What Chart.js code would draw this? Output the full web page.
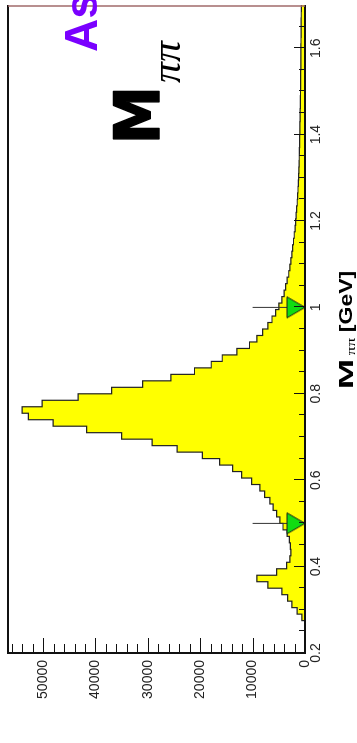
<!DOCTYPE html>
<html>
<head>
  <title>M pipi</title>
  <script src="https://cdn.jsdelivr.net/npm/chart.js@4/dist/chart.umd.min.js"></script>
  <style>
    html, body { margin: 0; padding: 0; background: #fff; overflow: hidden; }
    body { width: 357px; height: 743px; position: relative; }
    /* the plot is drawn landscape and turned a quarter left, like the scan */
    #wrap { position: absolute; left: 0; top: 0; width: 743px; height: 357px;
            transform-origin: 0 0; transform: translate(0, 743px) rotate(-90deg); }
  </style>
</head>
<body>
  <div id="wrap"><canvas id="hist" width="743" height="357"></canvas></div>
  <script>
    // 100 bins of 15 MeV between 0.2 and 1.7 GeV
    var massMin = 0.2, massMax = 1.7, binWidth = 0.015;
    var counts = [
      0, 0, 0, 0, 0, 600, 1500, 2500, 3300, 4400,
      7100, 9200, 5400, 3500, 2900, 2700, 2800, 3000, 3400, 4200,
      4800, 5400, 6100, 6700, 7700, 8600, 10200, 12100, 13800, 16300,
      19600, 24400, 29200, 35000, 41700, 48100, 52800, 54000, 50200, 43300,
      36900, 31000, 25600, 21100, 17900, 15800, 13000, 10600, 9200, 8100,
      7100, 6300, 5600, 5000, 4400, 4000, 3700, 3400, 3100, 2900,
      2700, 2500, 2350, 2200, 2050, 1900, 1780, 1680, 1580, 1480,
      1400, 1340, 1280, 1220, 1180, 1140, 1100, 1070, 1040, 1010,
      980, 960, 940, 920, 900, 880, 860, 850, 830, 820,
      800, 790, 780, 770, 760, 750, 740, 730, 720, 710
    ];
    var massTicks = [0.2, 0.4, 0.6, 0.8, 1, 1.2, 1.4, 1.6];
    var countTicks = [0, 10000, 20000, 30000, 40000, 50000];
    var countMax = 56700;
    var cutMasses = [0.5, 1.0];
    var cutLineTop = 10000;

    var histPts = [];
    for (var i = 0; i < counts.length; i++) {
      histPts.push({x: massMin + i * binWidth, y: counts[i]});
    }
    histPts.push({x: massMax, y: counts[counts.length - 1]});

    // green cut arrow, tip at the centre of the image so it sits on the axis
    var tri = document.createElement('canvas');
    tri.width = 26; tri.height = 50;
    var tc = tri.getContext('2d');
    tc.beginPath();
    tc.moveTo(13, 25); tc.lineTo(2.5, 7); tc.lineTo(23.5, 7); tc.closePath();
    tc.fillStyle = '#11dd11'; tc.fill();
    tc.strokeStyle = '#1a1a1a'; tc.lineWidth = 1; tc.stroke();

    var datasets = [];
    datasets.push({
      type: 'scatter',
      data: cutMasses.map(function(m) { return {x: m, y: 0}; }),
      pointStyle: tri,
      clip: false
    });
    cutMasses.forEach(function(m) {
      datasets.push({
        type: 'line',
        data: [{x: m, y: 0}, {x: m, y: cutLineTop}],
        borderColor: '#333',
        borderWidth: 1,
        pointRadius: 0
      });
    });
    datasets.push({
      type: 'line',
      data: histPts,
      stepped: true,
      borderColor: '#222',
      borderWidth: 1.2,
      backgroundColor: '#ffff00',
      fill: 'origin',
      pointRadius: 0
    });

    // draw txt so that its ink fills the box x0..x1, y0..y1
    function boxText(ctx, txt, font, x0, y0, x1, y1, stroke) {
      ctx.save();
      ctx.font = font;
      var m = ctx.measureText(txt);
      var w = m.actualBoundingBoxLeft + m.actualBoundingBoxRight;
      var h = m.actualBoundingBoxAscent + m.actualBoundingBoxDescent;
      ctx.translate(x0, y0);
      ctx.scale((x1 - x0) / w, (y1 - y0) / h);
      ctx.fillText(txt, m.actualBoundingBoxLeft, m.actualBoundingBoxAscent);
      if (stroke) {
        ctx.lineWidth = stroke;
        ctx.lineJoin = 'round';
        ctx.strokeText(txt, m.actualBoundingBoxLeft, m.actualBoundingBoxAscent);
      }
      ctx.restore();
    }

    var decor = {
      id: 'decor',
      afterDatasetsDraw: function(chart) {
        var ctx = chart.ctx, a = chart.chartArea;
        var xs = chart.scales.x, ys = chart.scales.y;
        ctx.save();
        ctx.strokeStyle = '#111';
        ctx.lineWidth = 1;
        // inward ticks, mass axis
        for (var k = 0; k < 30; k++) {
          var px = Math.round(xs.getPixelForValue(massMin + k * 0.05)) + 0.5;
          var len = (k % 4 === 0) ? 11 : 6;
          ctx.beginPath(); ctx.moveTo(px, a.bottom); ctx.lineTo(px, a.bottom - len); ctx.stroke();
        }
        // inward ticks, count axis
        for (var c = 0; c <= countMax; c += 2000) {
          var py = Math.round(ys.getPixelForValue(c)) + 0.5;
          var len2 = (c % 10000 === 0) ? 15 : 9;
          ctx.beginPath(); ctx.moveTo(a.left, py); ctx.lineTo(a.left + len2, py); ctx.stroke();
        }
        // frame
        ctx.lineWidth = 2;
        ctx.strokeStyle = '#111';
        ctx.beginPath();
        ctx.moveTo(a.right, a.top); ctx.lineTo(a.left, a.top);
        ctx.lineTo(a.left, a.bottom); ctx.lineTo(a.right, a.bottom);
        ctx.stroke();
        ctx.lineWidth = 1.5;
        ctx.strokeStyle = '#a06a6a';
        ctx.beginPath(); ctx.moveTo(a.right - 1, a.top); ctx.lineTo(a.right - 1, a.bottom); ctx.stroke();

        // big label inside the frame
        ctx.fillStyle = '#000';
        ctx.strokeStyle = '#000';
        boxText(ctx, 'M', 'bold 100px "DejaVu Sans"', 604, 114, 652, 159, 2.5);
        boxText(ctx, '\u03c0\u03c0', 'italic 100px "Liberation Serif"', 660, 160, 703, 180);

        ctx.fillStyle = '#7a00ff';
        ctx.font = 'bold 46px "Liberation Sans"';
        ctx.fillText('As', a.right - 47, 97);

        // axis title
        ctx.fillStyle = '#000';
        boxText(ctx, 'M', 'bold 100px "Liberation Sans"', 356, 339, 382, 353);
        boxText(ctx, '\u03c0\u03c0', '100px "Liberation Serif"', 388, 349, 405, 355);
        boxText(ctx, '[GeV]', 'bold 100px "Liberation Sans"', 412, 338, 471, 356);
        ctx.restore();
      }
    };

    new Chart(document.getElementById('hist'), {
      data: { datasets: datasets },
      options: {
        responsive: false,
        animation: false,
        layout: { padding: { top: 8, right: 1, left: 0, bottom: 0 } },
        plugins: { legend: { display: false }, tooltip: { enabled: false } },
        events: [],
        scales: {
          x: {
            type: 'linear', min: massMin, max: massMax,
            grid: { display: false, drawTicks: false },
            border: { display: false },
            afterBuildTicks: function(s) { s.ticks = massTicks.map(function(v) { return {value: v}; }); },
            afterFit: function(s) { s.height = 52; s.paddingLeft = 0; s.paddingRight = 0; },
            ticks: {
              padding: 3, color: '#222', maxRotation: 0,
              font: { family: '"Liberation Sans"', size: 14 },
              callback: function(v) { return String(v); }
            }
          },
          y: {
            type: 'linear', min: 0, max: countMax,
            grid: { display: false, drawTicks: false },
            border: { display: false },
            afterBuildTicks: function(s) { s.ticks = countTicks.map(function(v) { return {value: v}; }); },
            afterFit: function(s) { s.width = 90; s.paddingTop = 0; s.paddingBottom = 0; },
            ticks: {
              padding: 7, color: '#222',
              font: { family: '"Liberation Sans"', size: 14 },
              callback: function(v) { return String(v); }
            }
          }
        }
      },
      plugins: [decor]
    });
  </script>
</body>
</html>
